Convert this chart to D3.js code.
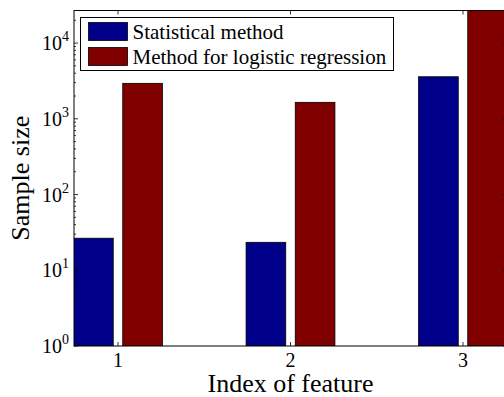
<!DOCTYPE html>
<html>
<head>
<meta charset="utf-8">
<script src="https://cdn.jsdelivr.net/npm/d3@7"></script>
<style>
  body { margin: 0; background: #fff; }
  svg text { font-family: "Liberation Serif", "Tinos", "Nimbus Roman", "FreeSerif", "Times New Roman" !important; }
</style>
</head>
<body>
<svg id="drawing_region"></svg>
<script>
const features = [1, 2, 3];
const seriesNames = ["Statistical method", "Method for logistic regression"];
const statistical = [26.5, 23.4, 3590];
const logistic = [2940, 1650, 30000];
const yTicks = [1, 10, 100, 1000, 10000];
const colors = ["#00008b", "#800000"];

const config = {
    width: 504,
    height: 397,
    margin: {top: 10.5, right: -3, bottom: 51, left: 74}
};

const svg = d3.select('#drawing_region')
    .attr('width', config.width)
    .attr('height', config.height);

const inner_width = config.width - config.margin.left - config.margin.right;
const inner_height = config.height - config.margin.top - config.margin.bottom;

const chart = svg.append('g')
    .attr('transform', `translate(${config.margin.left}, ${config.margin.top})`);

const xscale = d3.scaleLinear()
    .domain([0.745, 3.255])
    .range([0, inner_width]);

const yscale = d3.scaleLog()
    .domain([1, Math.pow(10, 4.43)])
    .range([inner_height, 0]);

const barW = 0.23, gap = 0.055;

chart.append('clipPath').attr('id', 'plotclip')
    .append('rect').attr('width', inner_width).attr('height', inner_height);

const bars = chart.append('g').attr('clip-path', 'url(#plotclip)');
[statistical, logistic].forEach((vals, s) => {
    bars.selectAll(null)
        .data(vals.map((v, i) => ({x: features[i], v})))
        .enter()
        .append('rect')
        .attr('x', d => s === 0 ? xscale(d.x - gap / 2 - barW) : xscale(d.x + gap / 2))
        .attr('width', xscale(barW) - xscale(0))
        .attr('y', d => yscale(d.v))
        .attr('height', d => yscale(1) - yscale(d.v))
        .attr('fill', colors[s])
        .attr('stroke', 'black')
        .attr('stroke-width', 0.8);
});

// ticks inside, matplotlib classic
const minor = [];
for (let e = 0; e < 5; e++) for (let m = 2; m <= 9; m++) {
    const v = m * Math.pow(10, e);
    if (v < yscale.domain()[1]) minor.push(v);
}
const tickG = chart.append('g').attr('stroke', 'black').attr('stroke-width', 0.8);
yTicks.forEach(t => {
    tickG.append('line').attr('x1', 0).attr('x2', 4).attr('y1', yscale(t)).attr('y2', yscale(t));
    tickG.append('line').attr('x1', inner_width).attr('x2', inner_width - 4).attr('y1', yscale(t)).attr('y2', yscale(t));
});
minor.forEach(t => {
    tickG.append('line').attr('x1', 0).attr('x2', 2).attr('y1', yscale(t)).attr('y2', yscale(t));
    tickG.append('line').attr('x1', inner_width).attr('x2', inner_width - 2).attr('y1', yscale(t)).attr('y2', yscale(t));
});
features.forEach(f => {
    tickG.append('line').attr('x1', xscale(f)).attr('x2', xscale(f)).attr('y1', inner_height).attr('y2', inner_height - 4);
    tickG.append('line').attr('x1', xscale(f)).attr('x2', xscale(f)).attr('y1', 0).attr('y2', 4);
});

// frame
chart.append('rect')
    .attr('width', inner_width).attr('height', inner_height)
    .attr('fill', 'none').attr('stroke', 'black').attr('stroke-width', 1);

// y tick labels
yTicks.forEach(t => {
    const lab = chart.append('text')
        .attr('x', -5).attr('y', yscale(t) + 7)
        .attr('text-anchor', 'end')
        .attr('font-size', 20);
    lab.append('tspan').text('10');
    lab.append('tspan').attr('dy', -9).attr('font-size', 14).text(Math.round(Math.log10(t)));
});

// x tick labels
chart.selectAll('.xlab')
    .data(features)
    .enter()
    .append('text')
    .attr('x', d => xscale(d))
    .attr('y', inner_height + 21)
    .attr('text-anchor', 'middle')
    .attr('font-size', 20)
    .text(d => d);

svg.append('text')
    .attr('x', -(config.margin.top + inner_height / 2))
    .attr('y', 29)
    .attr('transform', 'rotate(-90)')
    .attr('text-anchor', 'middle')
    .attr('font-size', 26)
    .text('Sample size');

svg.append('text')
    .attr('x', config.margin.left + inner_width / 2)
    .attr('y', 392)
    .attr('text-anchor', 'middle')
    .attr('font-size', 26)
    .text('Index of feature');

// legend
const legend = svg.append('g').attr('transform', 'translate(80.5, 17.5)');
legend.append('rect')
    .attr('width', 313).attr('height', 53)
    .attr('fill', 'white').attr('stroke', 'black').attr('stroke-width', 1);
seriesNames.forEach((name, i) => {
    legend.append('rect')
        .attr('x', 8).attr('y', 5 + i * 25)
        .attr('width', 39).attr('height', 18)
        .attr('fill', colors[i]).attr('stroke', 'black').attr('stroke-width', 0.8);
    legend.append('text')
        .attr('x', 52).attr('y', 21 + i * 25)
        .attr('font-size', 21)
        .text(name);
});
</script>
</body>
</html>
